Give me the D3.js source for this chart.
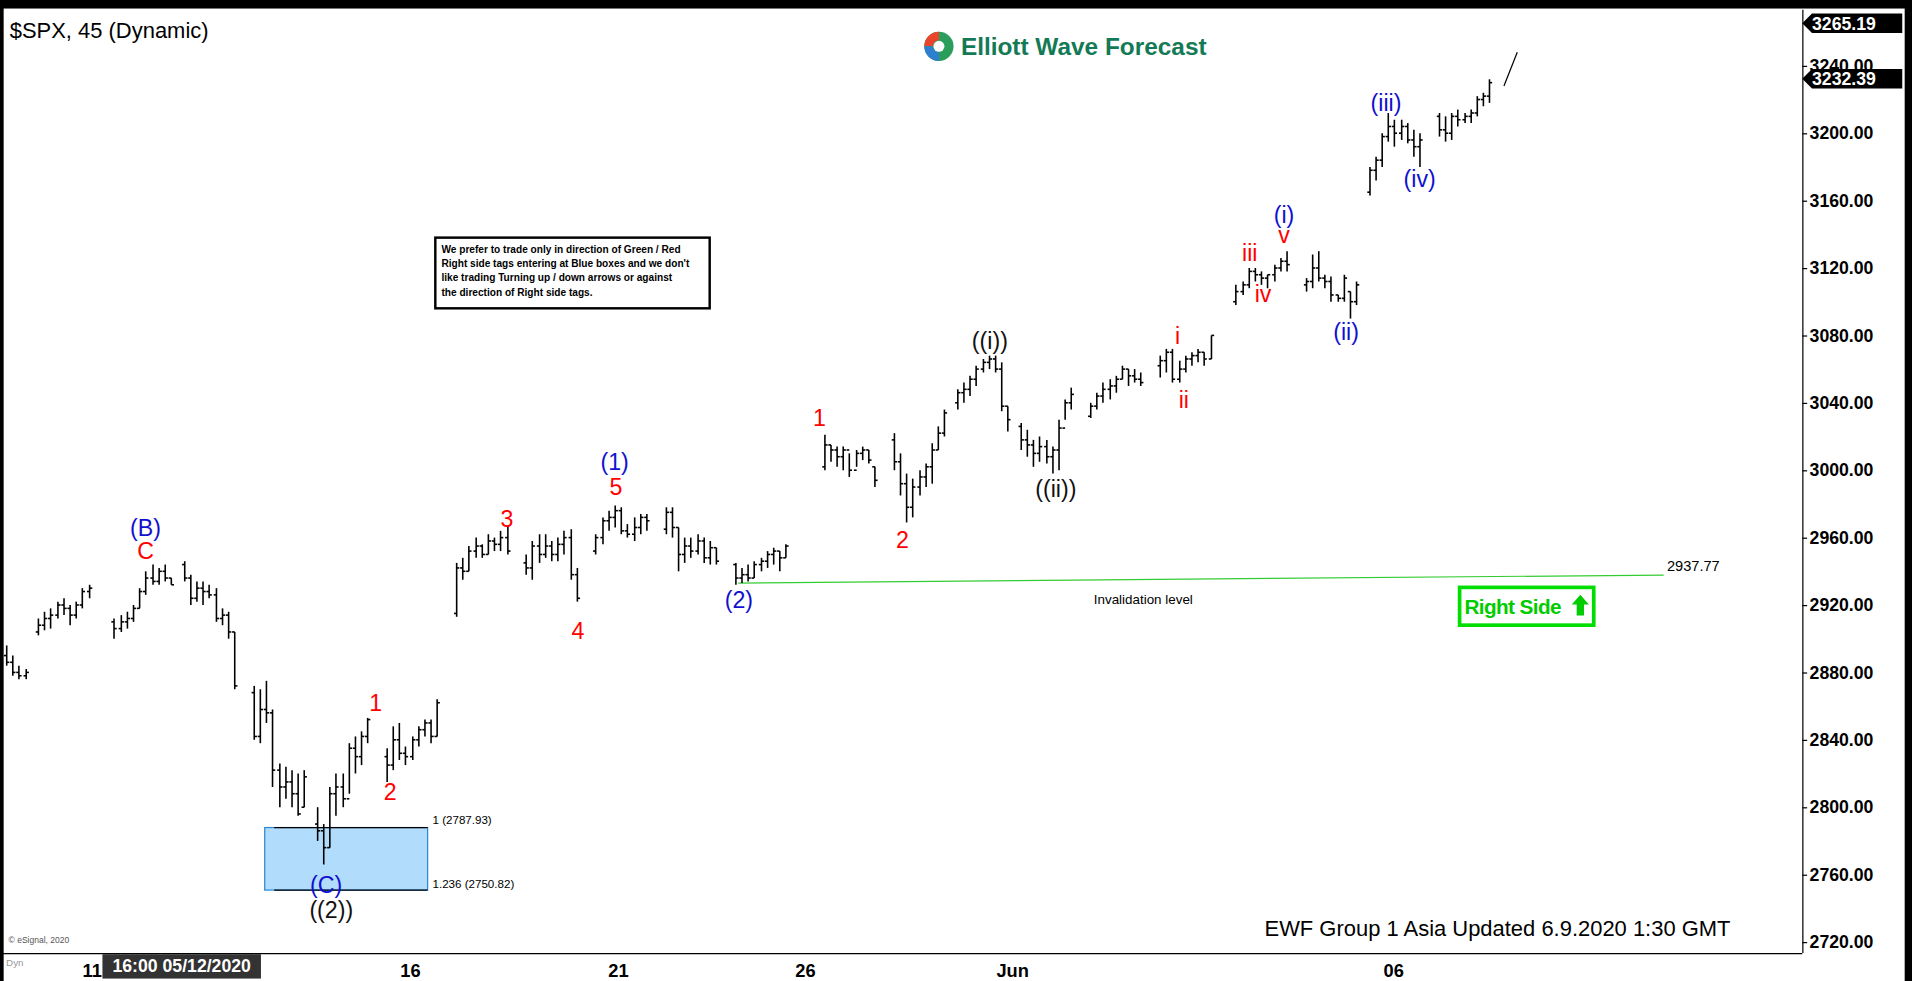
<!DOCTYPE html>
<html><head><meta charset="utf-8">
<script src="https://cdn.jsdelivr.net/npm/d3@7"></script>
<style>body{margin:0;background:#fff;overflow:hidden}svg{display:block}text{font-family:Arial,"Liberation Sans",sans-serif}</style>
</head><body><svg id="c" width="1912" height="981" viewBox="0 0 1568 805" preserveAspectRatio="none"></svg>
<script>
// sessions: start slot, bars [high, low, open, close]
const sessionStart=[0,5,17,28,39,49,60,71,82,93,104,115,129,140,150,160,171,182,194,205,215,226];
const sessionBars=[
[[2896,2884,2890,2886],[2890,2878,2886,2880],[2884,2876,2880,2878],[2882,2876,2878,2880]],
[[2912,2902,2904,2908],[2916,2905,2908,2912],[2918,2906,2912,2914],[2922,2912,2914,2920],[2924,2914,2920,2918],[2920,2908,2918,2914],[2922,2912,2914,2920],[2930,2918,2920,2928],[2932,2924,2928,2930]],
[[2912,2900,2910,2906],[2914,2904,2906,2910],[2916,2906,2910,2912],[2920,2910,2912,2918],[2930,2918,2918,2928],[2940,2926,2928,2936],[2944,2932,2936,2934],[2942,2932,2934,2940],[2944,2934,2940,2936],[2936,2932,2936,2932]],
[[2946,2934,2944,2936],[2938,2920,2936,2924],[2934,2922,2924,2930],[2934,2920,2930,2928],[2932,2924,2928,2926],[2930,2910,2926,2912],[2918,2908,2912,2914],[2916,2900,2914,2904],[2904,2870,2904,2872]],
[[2872,2840,2868,2842],[2870,2838,2842,2858],[2875,2850,2858,2856],[2858,2812,2856,2822],[2826,2800,2822,2812],[2824,2805,2812,2815],[2822,2800,2815,2808],[2820,2795,2808,2796],[2822,2800,2800,2818]],
[[2800,2780,2790,2786],[2790,2766,2786,2776],[2812,2776,2776,2808],[2820,2795,2808,2812],[2820,2800,2812,2805],[2838,2808,2805,2835],[2842,2820,2835,2830],[2845,2825,2830,2842],[2853,2838,2842,2852]],
[[2835,2815,2830,2825],[2848,2822,2825,2840],[2850,2828,2840,2832],[2836,2825,2832,2830],[2842,2828,2830,2840],[2848,2836,2840,2846],[2852,2842,2846,2850],[2852,2838,2850,2842],[2864,2842,2842,2862]],
[[2945,2913,2915,2942],[2948,2935,2942,2940],[2955,2940,2940,2952],[2960,2948,2952,2955],[2956,2948,2955,2950],[2962,2950,2950,2958],[2960,2952,2958,2956],[2964,2952,2956,2960],[2967,2950,2960,2952]],
[[2950,2938,2945,2942],[2958,2935,2942,2955],[2962,2945,2955,2950],[2962,2948,2950,2955],[2958,2946,2955,2950],[2960,2946,2950,2956],[2964,2950,2956,2960],[2965,2935,2960,2938],[2942,2922,2938,2924]],
[[2962,2950,2952,2960],[2972,2956,2960,2970],[2976,2964,2970,2972],[2979,2966,2972,2976],[2978,2962,2976,2964],[2968,2960,2964,2962],[2972,2958,2962,2966],[2974,2962,2966,2972],[2974,2964,2972,2970]],
[[2978,2962,2965,2975],[2978,2960,2975,2966],[2966,2940,2966,2950],[2960,2945,2950,2955],[2960,2948,2955,2952],[2962,2950,2952,2958],[2960,2945,2958,2948],[2958,2944,2948,2954],[2954,2944,2954,2946]],
[[2945,2932,2944,2936],[2942,2933,2936,2938],[2944,2934,2938,2936],[2946,2936,2936,2944],[2948,2940,2944,2946],[2952,2942,2946,2950],[2954,2944,2950,2952],[2952,2940,2952,2948],[2956,2948,2948,2955]],
[[3021,3000,3002,3015],[3015,3005,3015,3012],[3014,3002,3012,3008],[3014,3000,3008,3012],[3010,2996,3012,3000],[3012,3002,3000,3010],[3014,3006,3010,3012],[3012,3004,3012,3006],[3002,2990,3002,2994]],
[[3022,3000,3018,3005],[3010,2985,3005,2992],[2998,2969,2992,2978],[2995,2972,2978,2990],[3000,2985,2990,2996],[3004,2990,2996,3002],[3016,2992,3002,3012],[3026,3012,3012,3022],[3036,3020,3022,3034]],
[[3048,3036,3040,3046],[3052,3040,3046,3048],[3056,3044,3048,3054],[3062,3050,3054,3060],[3066,3058,3060,3064],[3068,3060,3064,3066],[3068,3058,3066,3060],[3064,3035,3060,3038],[3038,3023,3038,3030]],
[[3028,3012,3026,3018],[3024,3008,3018,3015],[3018,3002,3015,3010],[3020,3005,3010,3014],[3018,3004,3014,3008],[3014,2998,3008,3012],[3030,3000,3012,3025],[3042,3030,3025,3040],[3049,3036,3040,3045]],
[[3040,3031,3032,3038],[3046,3036,3038,3044],[3052,3040,3044,3048],[3054,3042,3048,3050],[3056,3046,3050,3054],[3062,3054,3054,3060],[3060,3050,3060,3056],[3060,3052,3056,3054],[3058,3050,3054,3052]],
[[3068,3055,3062,3065],[3072,3058,3065,3070],[3072,3052,3070,3054],[3065,3052,3054,3060],[3068,3058,3060,3066],[3070,3062,3066,3068],[3072,3064,3068,3070],[3070,3062,3070,3066],[3080,3066,3066,3080]],
[[3110,3098,3100,3106],[3112,3104,3106,3110],[3120,3108,3110,3118],[3120,3112,3118,3116],[3118,3110,3116,3114],[3116,3108,3114,3116],[3122,3112,3116,3120],[3126,3118,3120,3124],[3130,3118,3124,3122]],
[[3114,3106,3110,3112],[3128,3108,3112,3120],[3130,3112,3120,3114],[3116,3108,3114,3112],[3115,3100,3112,3104],[3104,3100,3104,3102],[3116,3100,3102,3114],[3106,3090,3106,3100],[3112,3098,3100,3110]],
[[3180,3163,3165,3178],[3186,3172,3178,3184],[3200,3180,3184,3198],[3212,3195,3198,3204],[3208,3192,3204,3200],[3208,3196,3200,3204],[3206,3194,3204,3196],[3202,3186,3196,3192],[3200,3180,3192,3196]],
[[3212,3198,3210,3202],[3210,3195,3202,3200],[3212,3196,3200,3210],[3214,3204,3210,3208],[3212,3206,3208,3210],[3214,3206,3210,3212],[3222,3210,3212,3220],[3224,3216,3220,3222],[3232,3218,3222,3230]]
];
const priceTicks=[2720,2760,2800,2840,2880,2920,2960,3000,3040,3080,3120,3160,3200,3240];
const dateLabels=["11","16","21","26","Jun","06"];
const dateSlots=[13.5,63.7,96.5,126,158.7,218.8];
// annotations: [label, slot, price, color]
const waveLabels=[
["(B)",22,2961,"#1010d0"],["C",22,2947,"red"],["(C)",50.5,2749,"#1010d0"],["((2))",51.3,2734,"#111"],
["1",58.3,2857,"red"],["2",60.6,2804,"red"],["3",79,2966,"red"],["4",90.2,2900,"red"],
["(1)",96,3000,"#1010d0"],["5",96.2,2985,"red"],["(2)",115.6,2918,"#1010d0"],
["1",128.3,3026,"red"],["2",141.4,2954,"red"],["((i))",155.2,3072,"#111"],["((ii))",165.6,2984,"#111"],
["i",184.8,3075,"red"],["ii",185.8,3037,"red"],["iii",196.2,3124,"red"],["iv",198.3,3100,"red"],
["v",201.6,3135,"red"],["(i)",201.6,3147,"#1010d0"],["(ii)",211.4,3077,"#1010d0"],
["(iii)",217.7,3213,"#1010d0"],["(iv)",223,3168,"#1010d0"]];
const invalidation=[[115.5,2933],[261.5,2937.77]];
const fibBox={slot0:40.8,slot1:66.5,top:2787.93,bottom:2750.82};
const noteLines=["We prefer to trade only in direction of Green / Red","Right side tags entering at Blue boxes and we don't","like trading Turning up / down arrows or against","the direction of Right side tags."];

const svg=d3.select("#c");
const x=d3.scaleLinear().domain([0,237]).range([5,1237]);
const y=d3.scaleLinear().domain([2720,3240]).range([773,54]);
const g=svg.append("g");

g.append("rect").attr("x",x(fibBox.slot0)).attr("y",y(fibBox.top)).attr("width",x(fibBox.slot1)-x(fibBox.slot0))
 .attr("height",y(fibBox.bottom)-y(fibBox.top)).attr("fill","#b1dcfb").attr("stroke","#2a87d8").attr("stroke-width",1);
g.append("line").attr("x1",x(42.3)).attr("x2",x(fibBox.slot1)).attr("y1",y(fibBox.top)).attr("y2",y(fibBox.top)).attr("stroke","#000");
g.append("line").attr("x1",x(42.3)).attr("x2",x(fibBox.slot1)).attr("y1",y(fibBox.bottom)).attr("y2",y(fibBox.bottom)).attr("stroke","#000");
g.append("text").attr("x",x(fibBox.slot1)+4).attr("y",y(fibBox.top)-3).attr("font-size",9.5).text("1 (2787.93)");
g.append("text").attr("x",x(fibBox.slot1)+4).attr("y",y(fibBox.bottom)-2).attr("font-size",9.5).text("1.236 (2750.82)");

g.append("line").attr("x1",x(invalidation[0][0])).attr("y1",y(invalidation[0][1])).attr("x2",x(invalidation[1][0])).attr("y2",y(invalidation[1][1])).attr("stroke","#33cc33").attr("stroke-width",1);
g.append("text").attr("x",1367).attr("y",y(2937.77)-3).attr("font-size",12).text("2937.77");
g.append("text").attr("x",897).attr("y",496).attr("font-size",11).text("Invalidation  level");

const bars=[];
sessionStart.forEach((s,i)=>sessionBars[i].forEach((b,j)=>bars.push({slot:s+j,h:b[0],l:b[1],o:b[2],c:b[3]})));
const bg=g.append("g").attr("stroke","#000").attr("stroke-width",1.3);
bars.forEach(d=>{
  const cx=Math.round(x(d.slot))+0.5;
  bg.append("line").attr("x1",cx).attr("x2",cx).attr("y1",y(d.h)).attr("y2",y(d.l));
  bg.append("line").attr("x1",cx-2.2).attr("x2",cx).attr("y1",y(d.o)).attr("y2",y(d.o));
  bg.append("line").attr("x1",cx).attr("x2",cx+2.2).attr("y1",y(d.c)).attr("y2",y(d.c));
});
g.append("line").attr("x1",x(236.3)).attr("y1",y(3228)).attr("x2",x(238.4)).attr("y2",y(3248)).attr("stroke","#000").attr("stroke-width",1);

waveLabels.forEach(([t,s,p,c])=>g.append("text").attr("x",x(s)).attr("y",y(p)).attr("text-anchor","middle")
 .attr("font-size",19).attr("fill",c).text(t));

const ax=svg.append("g").attr("transform","translate(1478,0)").call(d3.axisRight(y).tickValues(priceTicks).tickFormat(d3.format(".2f")).tickSize(4));
ax.select(".domain").remove();
ax.selectAll("text").attr("font-size",14.5).attr("font-weight","bold").attr("fill","#000").attr("x",6);
ax.selectAll("line").attr("stroke","#000");
svg.append("line").attr("x1",1478.5).attr("x2",1478.5).attr("y1",8).attr("y2",782).attr("stroke","#000");
function tag(p,txt){
  const yy=y(p);
  svg.append("path").attr("d",`M1478,${yy} L1486,${yy-8} L1560,${yy-8} L1560,${yy+8} L1486,${yy+8} Z`).attr("fill","#000");
  svg.append("text").attr("x",1486).attr("y",yy+5.5).attr("font-size",14.5).attr("font-weight","bold").attr("fill","#fff").text(txt);
}
tag(3265.19,"3265.19"); tag(3232.39,"3232.39");

svg.append("rect").attr("x",0).attr("y",0).attr("width",1568).attr("height",7).attr("fill","#000");
svg.append("rect").attr("x",0).attr("y",0).attr("width",3).attr("height",805).attr("fill","#000");
svg.append("rect").attr("x",1562).attr("y",0).attr("width",6).attr("height",805).attr("fill","#000");
svg.append("line").attr("x1",0).attr("x2",1478).attr("y1",782.5).attr("y2",782.5).attr("stroke","#000");

const dx=svg.append("g").attr("transform","translate(0,782)").call(d3.axisBottom(x).tickValues(dateSlots).tickFormat((d,i)=>dateLabels[i]).tickSize(0));
dx.select(".domain").remove();
dx.selectAll("text").attr("font-size",15).attr("font-weight","bold").attr("fill","#000").attr("dy","1.1em");
svg.append("rect").attr("x",84).attr("y",783).attr("width",130).attr("height",20).attr("fill","#333");
svg.append("text").attr("x",149).attr("y",798).attr("text-anchor","middle").attr("font-size",14.5).attr("font-weight","bold").attr("fill","#fff").text("16:00 05/12/2020");
svg.append("text").attr("x",5).attr("y",793).attr("font-size",8).attr("fill","#999").text("Dyn");
svg.append("text").attr("x",7).attr("y",774).attr("font-size",7).attr("fill","#555").text("© eSignal, 2020");

svg.append("text").attr("x",8).attr("y",31).attr("font-size",18).attr("fill","#000").text("$SPX, 45 (Dynamic)");
const lg=svg.append("g").attr("transform","translate(770,38)");
lg.append("circle").attr("r",12).attr("fill","#2a9d5c");
lg.append("path").attr("d","M-12,0 A12,12 0 0 1 0,-12 L0,-5 A5,5 0 0 0 -5,0 Z").attr("fill","#e8452c");
lg.append("path").attr("d","M0,12 A12,12 0 0 1 -12,0 L-5,0 A5,5 0 0 0 0,5 Z").attr("fill","#2f7fd0");
lg.append("circle").attr("r",4.5).attr("fill","#fff");
svg.append("text").attr("x",788).attr("y",45).attr("font-size",20).attr("font-weight","bold").attr("fill","#137a55").text("Elliott Wave Forecast");

svg.append("rect").attr("x",357).attr("y",195).attr("width",225).attr("height",58).attr("fill","#fff").attr("stroke","#000").attr("stroke-width",2);
noteLines.forEach((t,i)=>svg.append("text").attr("x",362).attr("y",208+i*11.5).attr("font-size",8.3).attr("font-weight","bold").text(t));

svg.append("rect").attr("x",1197).attr("y",482).attr("width",110).attr("height",31).attr("fill","#fff").attr("stroke","#00dd00").attr("stroke-width",3);
svg.append("text").attr("x",1201).attr("y",504).attr("font-size",17).attr("font-weight","bold").attr("fill","#00cc00").attr("letter-spacing",-0.5).text("Right Side");
svg.append("path").attr("d","M1296,488 L1303,496 L1299,496 L1299,505 L1293,505 L1293,496 L1289,496 Z").attr("fill","#00cc00");

svg.append("text").attr("x",1037).attr("y",768).attr("font-size",18).attr("fill","#000").text("EWF Group 1 Asia Updated 6.9.2020 1:30 GMT");
</script></body></html>
